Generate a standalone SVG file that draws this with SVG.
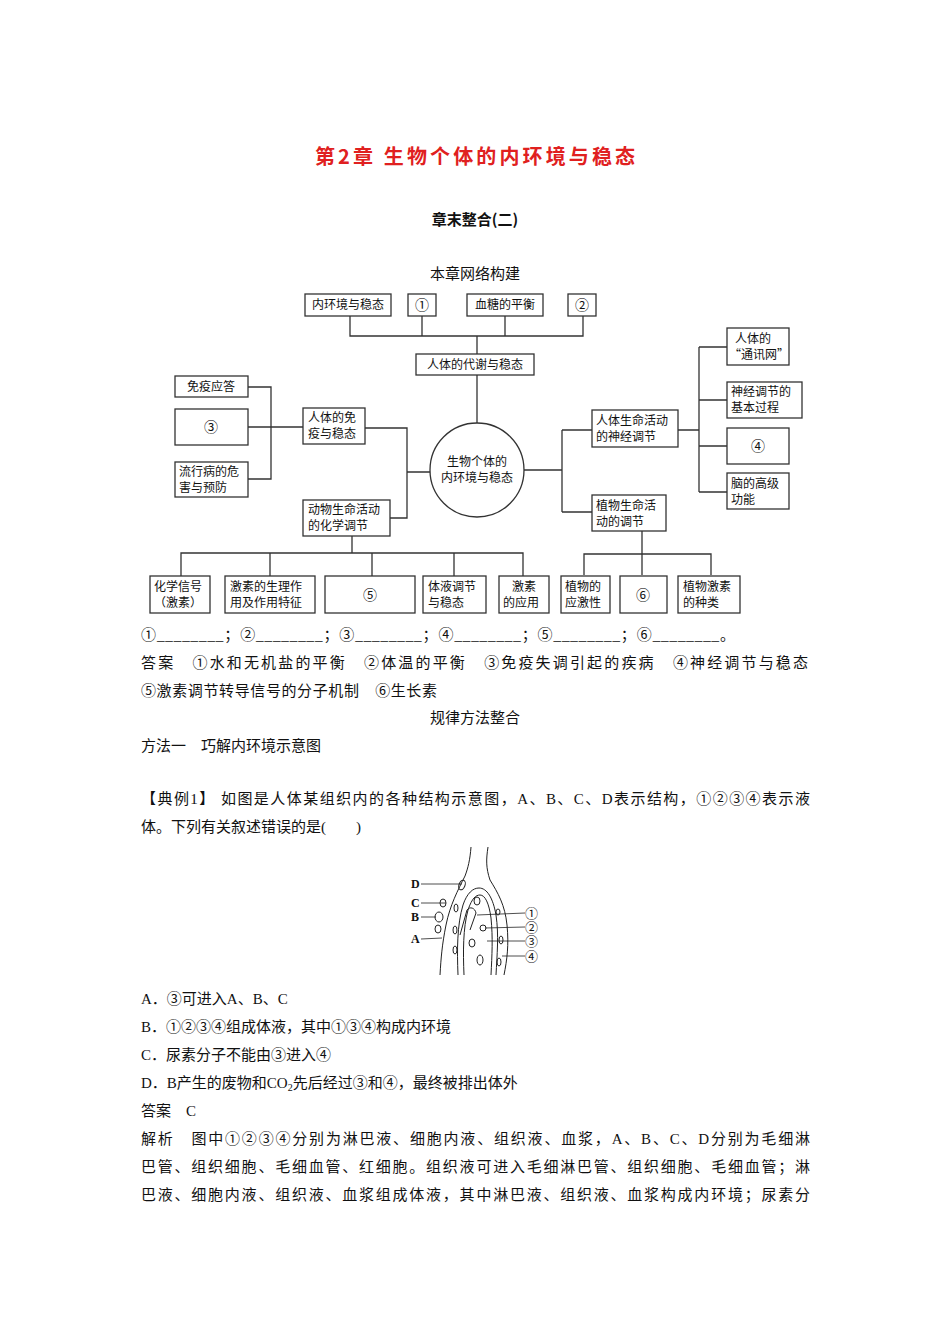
<svg xmlns="http://www.w3.org/2000/svg" width="950" height="1344" viewBox="0 0 950 1344">
<style>
text{font-family:"Liberation Serif","Noto Sans CJK SC",serif;fill:#111}
.t{font-size:15px}
.b rect{fill:#fff;stroke:#333;stroke-width:1.3}
.b text{font-size:12px;font-family:"Noto Sans CJK SC",sans-serif}
.c text{font-size:14px;text-anchor:middle}
.ln{fill:none;stroke:#333;stroke-width:1.3}
.f{fill:none;stroke:#222;stroke-width:1}
</style>
<rect width="950" height="1344" fill="#fff"/>
<text x="315" y="164" textLength="320" lengthAdjust="spacing" style="font-size:20px;font-weight:bold;fill:#e02020;font-family:'Noto Sans CJK SC',sans-serif">第2章  生物个体的内环境与稳态</text>
<text x="475" y="225" text-anchor="middle" style="font-size:15px;font-weight:bold;font-family:'Noto Sans CJK SC',sans-serif">章末整合(二)</text>
<text x="475" y="279" text-anchor="middle" class="t">本章网络构建</text>

<g id="connectors" class="ln">
<path d="M350 316V336H583V316M422 316V336M505 316V336M477 336V354M477 375V423"/>
<path d="M248 387H271V479H248M248 427H303M365 428H407V518H390M407 472H430"/>
<path d="M352 536V553M181 576V553H523V576M270 553V576M372 553V576M454 553V576"/>
<path d="M524 470H562M562 430V512M562 430H592M562 512H592"/>
<path d="M642 531V554M584 575V554H711V575M642 554V575"/>
<path d="M678 430H699M699 347V492M699 347H727M699 400H727M699 446H727M699 492H727"/>
</g>

<g class="b">
<g id="n1"><rect x="305" y="294" width="86" height="22"/><text x="348" y="309" text-anchor="middle">内环境与稳态</text></g>
<g id="n2" class="c"><rect x="408" y="294" width="28" height="22"/><text x="422" y="310">①</text></g>
<g id="n3"><rect x="467" y="294" width="76" height="22"/><text x="505" y="309" text-anchor="middle">血糖的平衡</text></g>
<g id="n4" class="c"><rect x="568" y="294" width="28" height="22"/><text x="582" y="310">②</text></g>
<g id="n5"><rect x="416" y="354" width="118" height="21"/><text x="475" y="369" text-anchor="middle">人体的代谢与稳态</text></g>
<g id="center"><ellipse cx="477" cy="470" rx="47" ry="47" fill="#fff" stroke="#333" stroke-width="1.3"/><text x="477" y="466" text-anchor="middle">生物个体的</text><text x="477" y="482" text-anchor="middle">内环境与稳态</text></g>
<g id="n6"><rect x="175" y="376" width="73" height="21"/><text x="211" y="391" text-anchor="middle">免疫应答</text></g>
<g id="n7" class="c"><rect x="175" y="409" width="73" height="36"/><text x="211" y="432">③</text></g>
<g id="n8"><rect x="175" y="462" width="73" height="35"/><text x="179" y="476">流行病的危</text><text x="179" y="492">害与预防</text></g>
<g id="n9"><rect x="303" y="408" width="62" height="36"/><text x="308" y="422">人体的免</text><text x="308" y="438">疫与稳态</text></g>
<g id="n10"><rect x="303" y="500" width="87" height="36"/><text x="308" y="514">动物生命活动</text><text x="308" y="530">的化学调节</text></g>
<g id="n11"><rect x="150" y="576" width="60" height="37"/><text x="154" y="591">化学信号</text><text x="154" y="607">（激素）</text></g>
<g id="n12"><rect x="225" y="576" width="90" height="37"/><text x="230" y="591">激素的生理作</text><text x="230" y="607">用及作用特征</text></g>
<g id="n13" class="c"><rect x="325" y="576" width="90" height="37"/><text x="370" y="600">⑤</text></g>
<g id="n14"><rect x="423" y="576" width="63" height="37"/><text x="428" y="591">体液调节</text><text x="428" y="607">与稳态</text></g>
<g id="n15"><rect x="499" y="576" width="50" height="37"/><text x="524" y="591" text-anchor="middle">激素</text><text x="503" y="607">的应用</text></g>
<g id="n16"><rect x="592" y="410" width="86" height="37"/><text x="596" y="425">人体生命活动</text><text x="596" y="441">的神经调节</text></g>
<g id="n17"><rect x="592" y="495" width="74" height="36"/><text x="596" y="510">植物生命活</text><text x="596" y="526">动的调节</text></g>
<g id="n18"><rect x="561" y="576" width="49" height="37"/><text x="565" y="591">植物的</text><text x="565" y="607">应激性</text></g>
<g id="n19" class="c"><rect x="620" y="576" width="47" height="37"/><text x="643" y="600">⑥</text></g>
<g id="n20"><rect x="678" y="576" width="62" height="37"/><text x="683" y="591">植物激素</text><text x="683" y="607">的种类</text></g>
<g id="n21"><rect x="727" y="328" width="62" height="37"/><text x="735" y="343">人体的</text><text x="729" y="359">“通讯网”</text></g>
<g id="n22"><rect x="727" y="382" width="75" height="36"/><text x="731" y="396">神经调节的</text><text x="731" y="412">基本过程</text></g>
<g id="n23" class="c"><rect x="727" y="428" width="62" height="36"/><text x="758" y="451">④</text></g>
<g id="n24"><rect x="727" y="473" width="62" height="36"/><text x="731" y="488">脑的高级</text><text x="731" y="504">功能</text></g>
</g>

<g class="t">
<text x="141" y="640" textLength="594" lengthAdjust="spacing">①________；②________；③________；④________；⑤________；⑥________。</text>
<text x="141" y="668" textLength="667" lengthAdjust="spacing">答案　①水和无机盐的平衡　②体温的平衡　③免疫失调引起的疾病　④神经调节与稳态</text>
<text x="141" y="696" textLength="296" lengthAdjust="spacing">⑤激素调节转导信号的分子机制　⑥生长素</text>
<text x="475" y="723" text-anchor="middle">规律方法整合</text>
<text x="141" y="751">方法一　巧解内环境示意图</text>
<text x="141" y="804" textLength="669" lengthAdjust="spacing">【典例1】 如图是人体某组织内的各种结构示意图，A、B、C、D表示结构，①②③④表示液</text>
<text x="141" y="832">体。下列有关叙述错误的是(　　)</text>
<text x="141" y="1004">A．③可进入A、B、C</text>
<text x="141" y="1032">B．①②③④组成体液，其中①③④构成内环境</text>
<text x="141" y="1060">C．尿素分子不能由③进入④</text>
<text x="141" y="1088">D．B产生的废物和CO<tspan font-size="10" dy="3">2</tspan><tspan dy="-3">先后经过③和④，最终被排出体外</tspan></text>
<text x="141" y="1116">答案　C</text>
<text x="141" y="1144" textLength="669" lengthAdjust="spacing">解析　图中①②③④分别为淋巴液、细胞内液、组织液、血浆，A、B、C、D分别为毛细淋</text>
<text x="141" y="1172" textLength="669" lengthAdjust="spacing">巴管、组织细胞、毛细血管、红细胞。组织液可进入毛细淋巴管、组织细胞、毛细血管；淋</text>
<text x="141" y="1200" textLength="669" lengthAdjust="spacing">巴液、细胞内液、组织液、血浆组成体液，其中淋巴液、组织液、血浆构成内环境；尿素分</text>
</g>

<g id="figure">
<path class="f" d="M471 847C470 860 468 868 465 876C458 890 450 905 446 925C442 945 441 958 440 975"/>
<path class="f" d="M488 847C486 860 486 868 490 880C498 893 505 905 507 925C509 945 507 960 504 975"/>
<path class="f" d="M458 975C457 950 457 925 463 905C467 893 473 888 479 888C487 888 493 898 496 915C499 935 497 955 496 975"/>
<path class="f" d="M464 975C463 952 463 928 468 910C472 898 476 895 480 895C485 895 489 903 491 918C493 938 492 955 491 975"/>
<path class="f" d="M460 935L467 910C470 906 475 908 476 913L470 930"/>
<g class="f">
<ellipse cx="462" cy="885" rx="3" ry="5" transform="rotate(20 462 885)"/><ellipse cx="443" cy="903" rx="3" ry="4"/>
<ellipse cx="439" cy="917" rx="4" ry="5"/><ellipse cx="438" cy="929" rx="3" ry="4"/>
<ellipse cx="456" cy="908" rx="2" ry="4"/><ellipse cx="455" cy="930" rx="2" ry="4"/><ellipse cx="455" cy="950" rx="2" ry="4"/>
<ellipse cx="477" cy="901" rx="3" ry="4"/><ellipse cx="483" cy="928" rx="3" ry="3"/><ellipse cx="472" cy="943" rx="3" ry="4"/><ellipse cx="480" cy="960" rx="3" ry="5"/>
<ellipse cx="498" cy="912" rx="2" ry="3"/><ellipse cx="501" cy="940" rx="2" ry="4"/><ellipse cx="499" cy="962" rx="2" ry="4"/>
</g>
<g stroke="#222" stroke-width="0.8">
<line x1="421" y1="884" x2="462" y2="884"/><line x1="421" y1="903" x2="446" y2="903"/>
<line x1="421" y1="917" x2="436" y2="917"/><line x1="421" y1="939" x2="442" y2="938"/>
<line x1="477" y1="915" x2="525" y2="913"/><line x1="485" y1="928" x2="525" y2="927"/>
<line x1="487" y1="941" x2="525" y2="941"/><line x1="502" y1="956" x2="525" y2="956"/>
</g>
<g style="font-size:12px;font-weight:bold">
<text x="411" y="888">D</text><text x="411" y="907">C</text><text x="411" y="921">B</text><text x="411" y="943">A</text>
</g>
<g style="font-size:13px">
<text x="525" y="918">①</text><text x="525" y="932">②</text><text x="525" y="946">③</text><text x="525" y="961">④</text>
</g>
</g>
</svg>
